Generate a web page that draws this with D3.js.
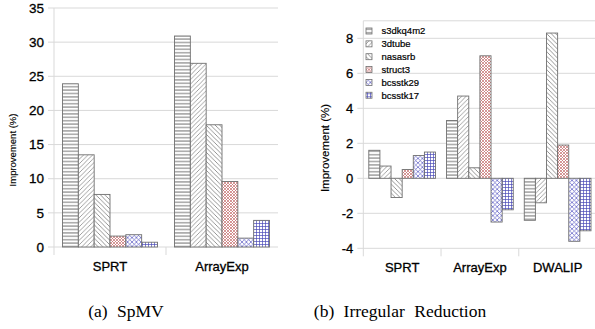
<!DOCTYPE html>
<html>
<head>
<meta charset="utf-8">
<script src="https://cdn.jsdelivr.net/npm/d3@7"></script>
<style>
  body { margin: 0; background: #fff; }
  svg { display: block; }
  .sans { font-family: "Liberation Sans", Arial, sans-serif; fill: #000; stroke: #000; stroke-width: 0.3px; }
</style>
</head>
<body>
<svg id="fig"></svg>
<script>
const width = 595;
const height = 329;

// data
const series = ["s3dkq4m2", "3dtube", "nasasrb", "struct3", "bcsstk29", "bcsstk17"];

const spmvCats = ["SPRT", "ArrayExp"];
const spmvValues = [
  [23.9, 13.5, 7.7, 1.6, 1.8, 0.7],
  [30.9, 26.9, 17.9, 9.6, 1.3, 3.9],
];
const spmvTicks = [0, 5, 10, 15, 20, 25, 30, 35];

const redCats = ["SPRT", "ArrayExp", "DWALIP"];
const redValues = [
  [1.6, 0.7, -1.1, 0.5, 1.3, 1.5],
  [3.3, 4.7, 0.6, 7.0, -2.5, -1.8],
  [-2.4, -1.4, 8.3, 1.9, -3.6, -3.0],
];
const redTicks = [-4, -2, 0, 2, 4, 6, 8];

const svg = d3.select("#fig").attr("width", width).attr("height", height);
svg.append("rect").attr("width", width).attr("height", height).attr("fill", "#fff");

// hatch patterns, one per series
const defs = svg.append("defs");
function pattern(id, size, color, paths, sw) {
  const p = defs.append("pattern")
    .attr("id", id)
    .attr("patternUnits", "userSpaceOnUse")
    .attr("width", size)
    .attr("height", size);
  p.append("rect").attr("width", size).attr("height", size).attr("fill", "#fff");
  paths.forEach((d) => {
    p.append("path").attr("d", d).attr("stroke", color).attr("stroke-width", sw).attr("fill", "none");
  });
}
pattern("p0", 3.4, "#666", ["M0,1.7H3.4"], 0.9);
pattern("p1", 4.5, "#8a8a8a", ["M0,4.5L4.5,0", "M-1,1L1,-1", "M3.5,5.5L5.5,3.5"], 0.8);
pattern("p2", 4.5, "#7a7a7a", ["M0,0L4.5,4.5", "M-1,3.5L1,5.5", "M3.5,-1L5.5,1"], 0.8);
pattern("p3", 3, "#c46a6a", ["M0,0L3,3", "M0,3L3,0"], 0.7);
pattern("p4", 4.4, "#5a5ac4", ["M0,0L4.4,4.4", "M0,4.4L4.4,0"], 0.7);
pattern("p5", 3, "#4a4ab8", ["M0,1.5H3", "M1.5,0V3"], 0.7);
const fills = series.map((s, i) => `url(#p${i})`);

function drawChart(cfg) {
  const g = svg.append("g");

  const y = d3.scaleLinear().domain(cfg.yDomain).range([cfg.bottom, cfg.top]);
  const x = d3.scaleBand().domain(cfg.cats).range([cfg.left, cfg.right]).padding(0);
  const inner = d3.scaleBand()
    .domain(series)
    .range([cfg.innerPad, x.bandwidth() - cfg.innerPad])
    .padding(0);

  // gridlines
  g.append("g")
    .selectAll("line")
    .data(cfg.ticks)
    .join("line")
    .attr("x1", cfg.left - 6)
    .attr("x2", cfg.right)
    .attr("y1", (d) => y(d))
    .attr("y2", (d) => y(d))
    .attr("stroke", "#d9d9d9")
    .attr("stroke-width", 1);

  if (cfg.topLine) {
    g.append("line")
      .attr("x1", cfg.left).attr("x2", cfg.right)
      .attr("y1", cfg.top).attr("y2", cfg.top)
      .attr("stroke", "#d9d9d9");
  }

  const y0 = y(0);
  const yBase = y(cfg.yDomain[0]);

  // value axis line
  g.append("line")
    .attr("x1", cfg.left).attr("x2", cfg.left)
    .attr("y1", cfg.top).attr("y2", yBase + 8)
    .attr("stroke", "#d9d9d9");

  // category ticks
  g.append("g")
    .selectAll("line")
    .data(cfg.cats.slice(1))
    .join("line")
    .attr("x1", (d) => x(d)).attr("x2", (d) => x(d))
    .attr("y1", yBase).attr("y2", yBase + 8)
    .attr("stroke", "#d9d9d9");

  // tick labels
  g.append("g")
    .selectAll("text")
    .data(cfg.ticks)
    .join("text")
    .attr("class", "sans")
    .attr("x", cfg.left - cfg.labelGap)
    .attr("y", (d) => y(d))
    .attr("dy", "0.35em")
    .attr("text-anchor", "end")
    .attr("font-size", cfg.tickSize)
    .text((d) => d);

  // axis title
  g.append("text")
    .attr("class", "sans")
    .attr("transform", `translate(${cfg.titleX},${cfg.titleY}) rotate(-90)`)
    .attr("text-anchor", "middle")
    .attr("font-size", cfg.titleSize)
    .style("stroke-width", "0.15px")
    .text("Improvement (%)");

  // category labels
  g.append("g")
    .selectAll("text")
    .data(cfg.cats)
    .join("text")
    .attr("class", "sans")
    .attr("x", (d) => x(d) + x.bandwidth() / 2)
    .attr("y", cfg.catY)
    .attr("text-anchor", "middle")
    .attr("font-size", 13)
    .text((d) => d);

  // bars
  cfg.cats.forEach((c, ci) => {
    g.append("g")
      .selectAll("rect")
      .data(cfg.values[ci])
      .join("rect")
      .attr("x", (d, i) => x(c) + inner(series[i]))
      .attr("y", (d) => Math.min(y(d), y0))
      .attr("width", inner.bandwidth())
      .attr("height", (d) => Math.abs(y(d) - y0))
      .attr("fill", (d, i) => fills[i])
      .attr("stroke", "#707070")
      .attr("stroke-width", 0.9);
  });

  return g;
}

drawChart({
  cats: spmvCats,
  values: spmvValues,
  ticks: spmvTicks,
  yDomain: [0, 35],
  top: 8,
  bottom: 247,
  left: 54,
  right: 278,
  innerPad: 8.5,
  labelGap: 10,
  tickSize: 13.5,
  titleX: 16,
  titleY: 150,
  titleSize: 9.5,
  catY: 271,
});

const right = drawChart({
  cats: redCats,
  values: redValues,
  ticks: redTicks,
  yDomain: [-4, 9],
  top: 20.8,
  bottom: 248.3,
  left: 363.3,
  right: 596.5,
  innerPad: 5.5,
  labelGap: 10,
  tickSize: 13,
  titleX: 329,
  titleY: 148,
  titleSize: 11.5,
  catY: 272,
  topLine: true,
});

// legend
const legend = right.append("g").attr("transform", "translate(366, 31)");
const row = legend.selectAll("g")
  .data(series)
  .join("g")
  .attr("transform", (d, i) => `translate(0, ${i * 12.85})`);
row.append("rect")
  .attr("x", 0).attr("y", -3)
  .attr("width", 6).attr("height", 6)
  .attr("fill", (d, i) => fills[i])
  .attr("stroke", "#707070")
  .attr("stroke-width", 0.8);
row.append("text")
  .attr("class", "sans")
  .attr("x", 15.5)
  .attr("y", 0)
  .attr("dy", "0.35em")
  .attr("font-size", 9.5)
  .style("stroke-width", "0.2px")
  .text((d) => d);

// captions
svg.append("text")
  .attr("x", 126).attr("y", 317)
  .attr("text-anchor", "middle")
  .attr("font-family", "Liberation Serif, Times New Roman, serif")
  .attr("font-size", 17.5)
  .attr("word-spacing", 5)
  .text("(a) SpMV");

svg.append("text")
  .attr("x", 400).attr("y", 317)
  .attr("text-anchor", "middle")
  .attr("font-family", "Liberation Serif, Times New Roman, serif")
  .attr("font-size", 17.5)
  .attr("word-spacing", 5)
  .text("(b) Irregular Reduction");
</script>
</body>
</html>
